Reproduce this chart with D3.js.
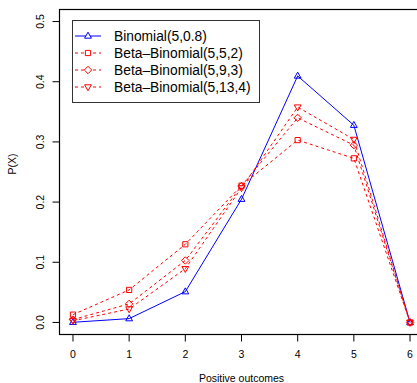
<!DOCTYPE html>
<meta charset="utf-8">
<script src="https://cdn.jsdelivr.net/npm/d3@7/dist/d3.min.js"></script>
<style>
body { margin: 0; background: #fff; }
text { font-family: "Liberation Sans", Arial, sans-serif; fill: #000; }
</style>
<body>
<script>

// values
var outcomes = [0, 1, 2, 3, 4, 5, 6];
var binom   = [0.0003, 0.0064, 0.0512, 0.2048, 0.4096, 0.3277, 0];
var bb552   = [0.0130, 0.0541, 0.1299, 0.2273, 0.3030, 0.2727, 0];
var bb593   = [0.0048, 0.0309, 0.1030, 0.2267, 0.3400, 0.2946, 0];
var bb5134  = [0.0028, 0.0224, 0.0894, 0.2236, 0.3578, 0.3041, 0];
var seriesNames = ["Binomial(5,0.8)", "Beta\u2013Binomial(5,5,2)", "Beta\u2013Binomial(5,9,3)", "Beta\u2013Binomial(5,13,4)"];
var xTicks = [0, 1, 2, 3, 4, 5, 6];
var yTicks = [0, 0.1, 0.2, 0.3, 0.4, 0.5];

var series = [
  {name: seriesNames[0], values: binom,  color: "#0000ff", dash: null,  shape: "up"},
  {name: seriesNames[1], values: bb552,  color: "#ff0000", dash: "3,3", shape: "square"},
  {name: seriesNames[2], values: bb593,  color: "#ff0000", dash: "3,3", shape: "diamond"},
  {name: seriesNames[3], values: bb5134, color: "#ff0000", dash: "3,3", shape: "down"}
];

var width = 417, height = 383;
var box = {left: 59.5, right: 423.5, top: 9.5, bottom: 334.5};

var svg = d3.select("body").append("svg")
    .attr("width", width)
    .attr("height", height);

var x = d3.scaleLinear().domain([-0.24, 6.24]).range([box.left, box.right]);
var y = d3.scaleLinear().domain([-0.02, 0.52]).range([box.bottom, box.top]);

function shapePath(shape) {
  if (shape == "up") return "M0,-3.8L3.4,2.2L-3.4,2.2Z";
  if (shape == "down") return "M0,3.8L3.4,-2.2L-3.4,-2.2Z";
  if (shape == "square") return "M-2.6,-2.6H2.6V2.6H-2.6Z";
  return "M0,-3.7L3.7,0L0,3.7L-3.7,0Z";
}

var line = d3.line()
    .x(function(d, i) { return x(outcomes[i]); })
    .y(function(d) { return y(d); });

// lines + points
var g = svg.selectAll(".series")
    .data(series)
  .enter().append("g")
    .attr("class", "series");

g.append("path")
    .attr("d", function(d) { return line(d.values); })
    .attr("fill", "none")
    .attr("stroke", function(d) { return d.color; })
    .attr("stroke-width", 1)
    .attr("stroke-dasharray", function(d) { return d.dash; });

g.each(function(s) {
  d3.select(this).selectAll(".pt")
      .data(s.values)
    .enter().append("path")
      .attr("class", "pt")
      .attr("transform", function(d, i) { return "translate(" + x(outcomes[i]) + "," + y(d) + ")"; })
      .attr("d", shapePath(s.shape))
      .attr("fill", "none")
      .attr("stroke", s.color)
      .attr("stroke-width", 1);
});

// frame
svg.append("rect")
    .attr("x", box.left).attr("y", box.top)
    .attr("width", box.right - box.left).attr("height", box.bottom - box.top)
    .attr("fill", "none").attr("stroke", "#000").attr("stroke-width", 1.2);

// x axis
var xAxis = svg.append("g").attr("transform", "translate(0," + box.bottom + ")");
xAxis.append("line")
    .attr("x1", x(0)).attr("x2", x(6)).attr("stroke", "#000");
xAxis.selectAll(".tick")
    .data(xTicks)
  .enter().append("line")
    .attr("x1", function(d) { return x(d); })
    .attr("x2", function(d) { return x(d); })
    .attr("y1", 0).attr("y2", 7)
    .attr("stroke", "#000");
xAxis.selectAll(".lab")
    .data(xTicks)
  .enter().append("text")
    .attr("x", function(d) { return x(d); })
    .attr("y", 23)
    .attr("text-anchor", "middle")
    .style("font-size", "10.5px")
    .text(function(d) { return d; });

// y axis
var yAxis = svg.append("g").attr("transform", "translate(" + box.left + ",0)");
yAxis.selectAll(".tick")
    .data(yTicks)
  .enter().append("line")
    .attr("y1", function(d) { return y(d); })
    .attr("y2", function(d) { return y(d); })
    .attr("x1", 0).attr("x2", -7)
    .attr("stroke", "#000");
yAxis.selectAll(".lab")
    .data(yTicks)
  .enter().append("text")
    .attr("transform", function(d) { return "translate(-15.5," + y(d) + ") rotate(-90)"; })
    .attr("text-anchor", "middle")
    .style("font-size", "10.5px")
    .text(function(d) { return d3.format(".1f")(d); });

// axis titles
svg.append("text")
    .attr("x", (box.left + box.right) / 2)
    .attr("y", 382)
    .attr("text-anchor", "middle")
    .style("font-size", "10.5px")
    .text("Positive outcomes");

svg.append("text")
    .attr("transform", "translate(16," + 164 + ") rotate(-90)")
    .attr("text-anchor", "middle")
    .style("font-size", "10.5px")
    .text("P(X)");

// legend
var legend = svg.append("g");
legend.append("rect")
    .attr("x", 72.5).attr("y", 20.5)
    .attr("width", 187).attr("height", 82)
    .attr("fill", "#fff").attr("stroke", "#333").attr("stroke-width", 1);

var item = legend.selectAll(".item")
    .data(series)
  .enter().append("g")
    .attr("transform", function(d, i) { return "translate(0," + (36 + i * 17) + ")"; });

item.append("line")
    .attr("x1", 75).attr("x2", 101)
    .attr("stroke", function(d) { return d.color; })
    .attr("stroke-dasharray", function(d) { return d.dash; });
item.append("path")
    .attr("transform", "translate(88,0)")
    .attr("d", function(d) { return shapePath(d.shape); })
    .attr("fill", "#fff")
    .attr("stroke", function(d) { return d.color; });
item.append("text")
    .attr("x", 114)
    .attr("y", 5)
    .style("font-size", "13.8px")
    .text(function(d) { return d.name; });

</script>
</body>
</html>
